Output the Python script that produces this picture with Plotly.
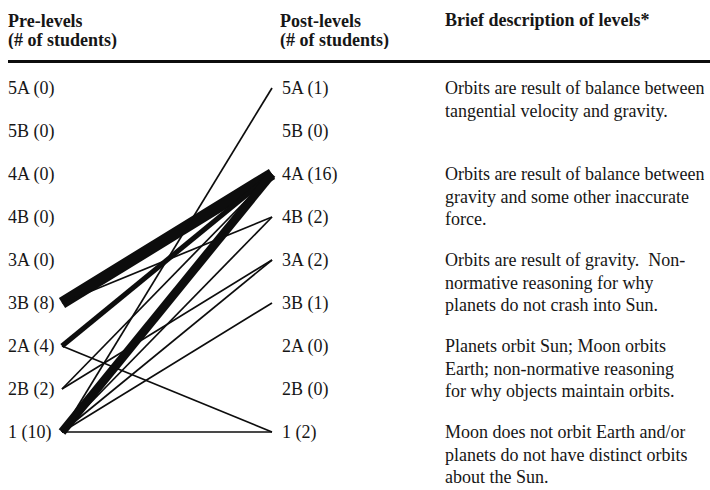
import plotly.graph_objects as go

# ---- data ----
levels = ["5A", "5B", "4A", "4B", "3A", "3B", "2A", "2B", "1"]
pre_counts = [0, 0, 0, 0, 0, 8, 4, 2, 10]
post_counts = [1, 0, 16, 2, 2, 1, 0, 0, 2]

flow_from = ["3B", "3B", "2A", "2A", "2B", "2B", "1", "1", "1", "1", "1", "1"]
flow_to = ["4A", "4B", "4A", "1", "4A", "3A", "5A", "4A", "4B", "3A", "3B", "1"]
flow_n = [7, 1, 3, 1, 1, 1, 1, 5, 1, 1, 1, 1]

desc_levels = ["5A", "4A", "3A", "2A", "1"]
descriptions = [
    ["Orbits are result of balance between", "tangential velocity and gravity."],
    ["Orbits are result of balance between", "gravity and some other inaccurate", "force."],
    ["Orbits are result of gravity.\u00a0 Non-", "normative reasoning for why", "planets do not crash into Sun."],
    ["Planets orbit Sun; Moon orbits", "Earth; non-normative reasoning", "for why objects maintain orbits."],
    ["Moon does not orbit Earth and/or", "planets do not have distinct orbits", "about the Sun."],
]

header_pre = ["Pre-levels", "(# of students)"]
header_post = ["Post-levels", "(# of students)"]
header_desc = "Brief description of levels*"

# ---- figure ----
W, H = 710, 490
FONT = "Liberation Serif, Times New Roman, serif"
FS = 18
TXT = "#161616"
LINE = "#0d0d0d"
px_per_student = 1.7
line_gap_px = 22.5

x0_px, x1_px = 62, 272
y0_px, step_px = 88, 43
sx = x1_px - x0_px

idx = {lv: i for i, lv in enumerate(levels)}

fig = go.Figure()
for f, t, n in zip(flow_from, flow_to, flow_n):
    fig.add_trace(go.Scatter(
        x=[0, 1], y=[idx[f], idx[t]], mode="lines",
        line=dict(color=LINE, width=n * px_per_student),
        hoverinfo="skip", showlegend=False,
    ))


def txt(x_px, y, text, yref="y", yshift=0, height=None):
    d = dict(x=x_px / W, xref="paper", xanchor="left", y=y, yref=yref,
             yanchor="middle", yshift=yshift, text=text, showarrow=False,
             font=dict(family=FONT, size=FS, color=TXT))
    if height is not None:
        d["height"] = height
    return d


ann = []
for lv, c in zip(levels, pre_counts):
    ann.append(txt(6, idx[lv], f"{lv} ({c})"))
for lv, c in zip(levels, post_counts):
    ann.append(txt(280, idx[lv], f"{lv} ({c})"))
for lv, block in zip(desc_levels, descriptions):
    for k, line in enumerate(block):
        ann.append(txt(443, idx[lv], line, yshift=-line_gap_px * k, height=20))
for k, line in enumerate(header_pre):
    ann.append(txt(6, 1 - (21 + 19 * k) / H, f"<b>{line}</b>", yref="paper", height=18))
for k, line in enumerate(header_post):
    ann.append(txt(278, 1 - (21 + 19 * k) / H, f"<b>{line}</b>", yref="paper", height=18))
ann.append(txt(443, 1 - 20 / H, f"<b>{header_desc}</b>", yref="paper"))

fig.update_layout(
    width=W, height=H,
    margin=dict(l=0, r=0, t=0, b=0),
    paper_bgcolor="white", plot_bgcolor="white",
    xaxis=dict(range=[-x0_px / sx, (W - x0_px) / sx], visible=False, fixedrange=True),
    yaxis=dict(range=[(H - y0_px) / step_px, -y0_px / step_px], visible=False, fixedrange=True),
    annotations=ann,
    shapes=[dict(type="line", xref="paper", yref="paper",
                 x0=8 / W, x1=1, y0=1 - 61.5 / H, y1=1 - 61.5 / H,
                 line=dict(color=LINE, width=3))],
    showlegend=False,
)

fig.write_html(
    "out.html",
    config={"displayModeBar": False},
    post_script="document.body.style.margin='0px';document.body.style.overflow='hidden';",
)
